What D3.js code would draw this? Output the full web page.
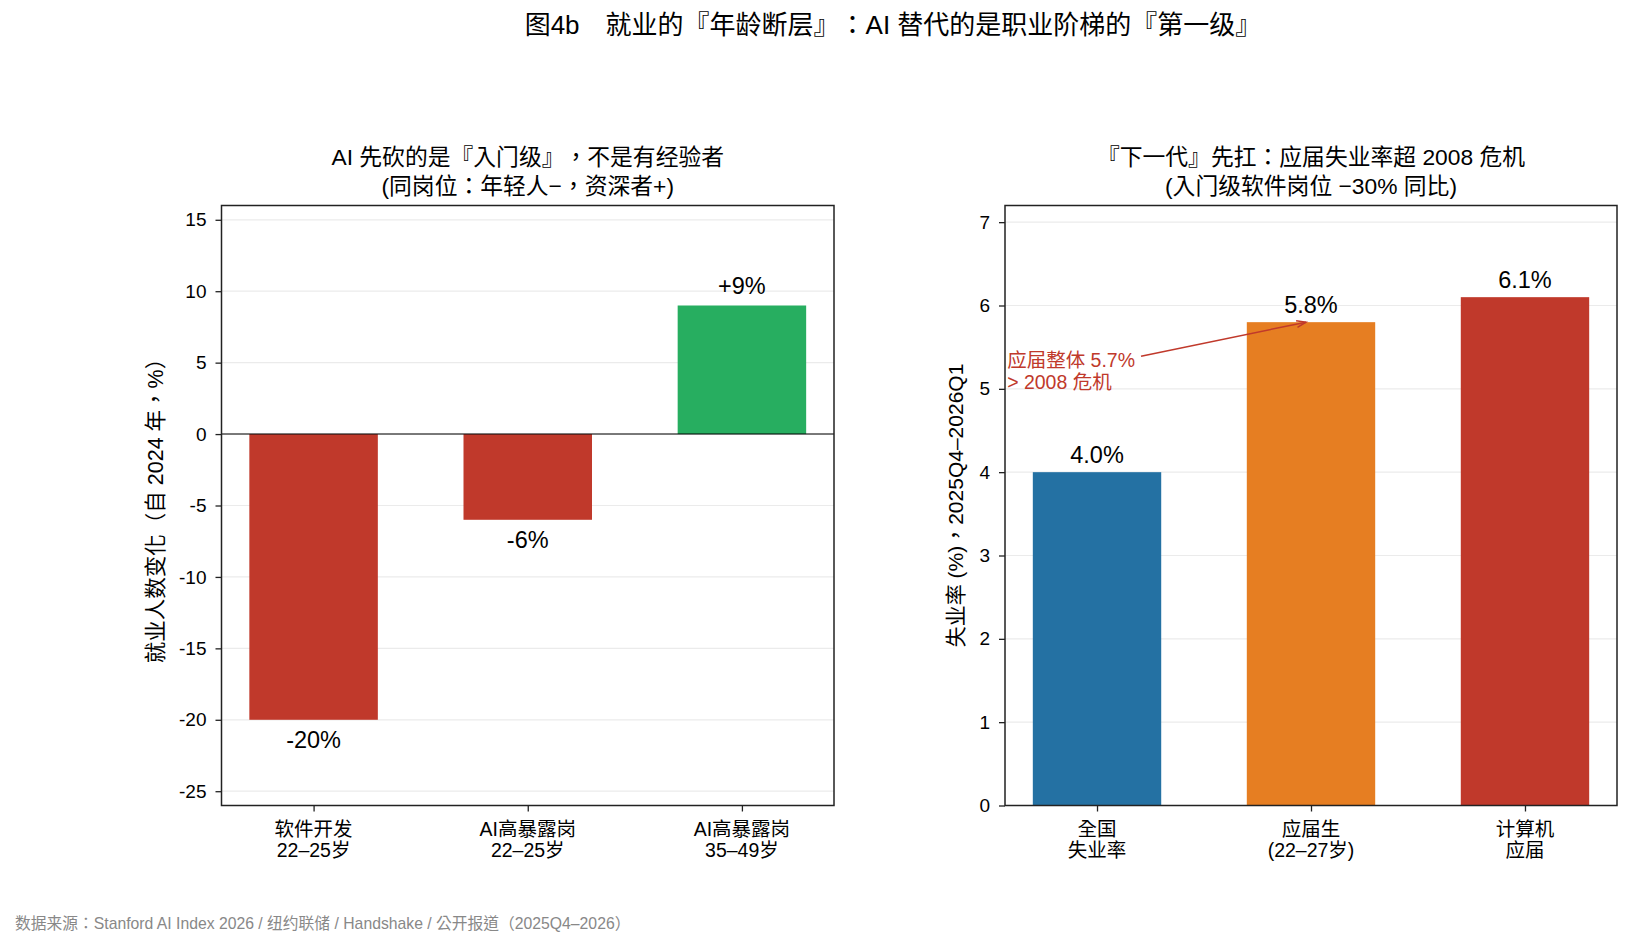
<!DOCTYPE html>
<html><head><meta charset="utf-8">
<script src="https://cdn.jsdelivr.net/npm/d3@7"></script>
<style>
body{margin:0;background:#fff;}
svg{display:block;}
text{font-family:"Liberation Sans","Noto Sans CJK TC",sans-serif;text-spacing-trim:space-all;}
</style></head>
<body><div id="chart"></div>
<script>
// ---------- data ----------
const mainTitle = "图4b　就业的『年龄断层』：AI 替代的是职业阶梯的『第一级』";
const footer = "数据来源：Stanford AI Index 2026 / 纽约联储 / Handshake / 公开报道（2025Q4–2026）";

const leftTitle = ["AI 先砍的是『入门级』，不是有经验者", "(同岗位：年轻人−，资深者+)"];
const leftCategories = [["软件开发","22–25岁"],["AI高暴露岗","22–25岁"],["AI高暴露岗","35–49岁"]];
const leftValues = [-20, -6, 9];
const leftLabels = ["-20%", "-6%", "+9%"];
const leftColors = ["#c0392b", "#c0392b", "#27ae60"];
const leftTicks = [-25, -20, -15, -10, -5, 0, 5, 10, 15];
const leftYLabel = "就业人数变化（自 2024 年，%）";

const rightTitle = ["『下一代』先扛：应届失业率超 2008 危机", "(入门级软件岗位 −30% 同比)"];
const rightCategories = [["全国","失业率"],["应届生","(22–27岁)"],["计算机","应届"]];
const rightValues = [4.0, 5.8, 6.1];
const rightLabels = ["4.0%", "5.8%", "6.1%"];
const rightColors = ["#2471a3", "#e67e22", "#c0392b"];
const rightTicks = [0, 1, 2, 3, 4, 5, 6, 7];
const rightYLabel = "失业率 (%)，2025Q4–2026Q1";
const annoText = ["应届整体 5.7%", "> 2008 危机"];
const annoTarget = {x: 1, y: 5.8};
const annoPos = {x: -0.42, y: 5.35};

// ---------- layout ----------
const W = 1632, H = 946;
const svg = d3.select("#chart").append("svg").attr("width", W).attr("height", H);

svg.append("text").attr("x", 893).attr("y", 25).attr("text-anchor","middle")
  .attr("dominant-baseline","central").attr("font-size", 26).attr("fill","#000").text(mainTitle);
svg.append("text").attr("x", 15).attr("y", 923).attr("dominant-baseline","central")
  .attr("font-size", 15.75).attr("fill","#888").text(footer);

function panel(opt){
  const {x0, x1, y0, y1} = opt;
  const g = svg.append("g");
  const x = d3.scaleLinear().domain([-0.43, 2.43]).range([x0, x1]);
  const y = d3.scaleLinear().domain(opt.domain).range([y1, y0]);
  // grid
  g.selectAll(".grid").data(opt.ticks).enter().append("line")
    .attr("x1", x0).attr("x2", x1).attr("y1", d=>y(d)).attr("y2", d=>y(d))
    .attr("stroke", "#ebebeb").attr("stroke-width", 1.2);
  // bars
  const bw = x(0.3) - x(-0.3);
  g.selectAll(".bar").data(opt.values).enter().append("rect")
    .attr("x", (d,i)=>x(i-0.3)).attr("width", bw)
    .attr("y", d=>y(Math.max(0,d))).attr("height", d=>Math.abs(y(d)-y(0)))
    .attr("fill", (d,i)=>opt.colors[i]);
  if (opt.zeroLine){
    g.append("line").attr("x1", x0).attr("x2", x1).attr("y1", y(0)).attr("y2", y(0))
      .attr("stroke","#000").attr("stroke-width",1.1);
  }
  // value labels
  g.selectAll(".vl").data(opt.values).enter().append("text")
    .attr("x", (d,i)=>x(i)).attr("y", d=> d>=0 ? y(d)-opt.labOff : y(d)+opt.labOff)
    .attr("text-anchor","middle").attr("dominant-baseline","central")
    .attr("font-size", opt.labSize).attr("fill","#000").text((d,i)=>opt.labels[i]);
  // axes
  const ya = d3.axisLeft(y).tickValues(opt.ticks).tickSize(6).tickPadding(9).tickFormat(opt.fmt);
  const yg = g.append("g").attr("transform", `translate(${x0},0)`).call(ya);
  yg.select(".domain").remove();
  yg.selectAll("text").attr("font-size", 19).attr("fill","#000");
  yg.selectAll("line").attr("stroke","#222").attr("stroke-width",1.3);
  const xa = d3.axisBottom(x).tickValues([0,1,2]).tickSize(6).tickFormat("");
  const xg = g.append("g").attr("transform", `translate(0,${y1})`).call(xa);
  xg.select(".domain").remove();
  xg.selectAll("line").attr("stroke","#222").attr("stroke-width",1.3);
  opt.cats.forEach((c,i)=>{
    c.forEach((s,j)=> g.append("text").attr("x", x(i)).attr("y", y1 + 23 + j*21)
      .attr("text-anchor","middle").attr("dominant-baseline","central")
      .attr("font-size",19.5).attr("fill","#000").text(s));
  });
  // frame
  g.append("rect").attr("x", x0).attr("y", y0).attr("width", x1-x0).attr("height", y1-y0)
    .attr("fill","none").attr("stroke","#222").attr("stroke-width",1.5);
  // titles
  opt.title.forEach((s,j)=>{
    g.append("text").attr("x", (x0+x1)/2).attr("y", 157 + j*29).attr("text-anchor","middle")
      .attr("dominant-baseline","central").attr("font-size",22.8).attr("fill","#000").text(s);
  });
  g.append("text").attr("transform", `translate(${opt.ylabX},${(y0+y1)/2}) rotate(-90)`)
    .attr("text-anchor","middle").attr("dominant-baseline","central")
    .attr("font-size",opt.ylabSize).attr("fill","#000").text(opt.ylabel);
  return {g, x, y};
}

panel({x0:221.5, x1:834, y0:205.5, y1:805.5, domain:[-26,16], ticks:leftTicks,
  values:leftValues, labels:leftLabels, colors:leftColors, cats:leftCategories,
  title:leftTitle, ylabel:leftYLabel, ylabX:156, ylabSize:21.5, zeroLine:true, labOff:20, labSize:23.5,
  fmt:d=>String(d)});

const R = panel({x0:1005, x1:1617, y0:205.5, y1:805.5, domain:[0,7.2], ticks:rightTicks,
  values:rightValues, labels:rightLabels, colors:rightColors, cats:rightCategories,
  title:rightTitle, ylabel:rightYLabel, ylabX:955, ylabSize:21, zeroLine:false, labOff:17, labSize:23.5,
  fmt:d=>String(d)});

// annotation
const red = "#c0392b";
const at = R.g.append("text").attr("font-size",19.5).attr("fill",red);
annoText.forEach((s,j)=> at.append("tspan").attr("x", R.x(annoPos.x)).attr("y", R.y(annoPos.y) + j*22)
  .attr("dominant-baseline","central").text(s));
const bb = at.node().getBBox();
const cx = bb.x + bb.width/2, cy = bb.y + bb.height/2;
const tx = R.x(annoTarget.x) - 5, ty = R.y(annoTarget.y);
const ex = bb.x + bb.width + 6;
const ey = cy + (ty - cy) * (ex - cx) / (tx - cx);
R.g.append("line").attr("x1", ex).attr("y1", ey).attr("x2", tx).attr("y2", ty)
  .attr("stroke", red).attr("stroke-width", 1.5);
const ang = Math.atan2(ty-ey, tx-ex);
const hl = 10, ha = 0.35;
R.g.append("path")
  .attr("d", `M${tx-hl*Math.cos(ang-ha)},${ty-hl*Math.sin(ang-ha)} L${tx},${ty} L${tx-hl*Math.cos(ang+ha)},${ty-hl*Math.sin(ang+ha)}`)
  .attr("fill","none").attr("stroke", red).attr("stroke-width",1.5);
</script></body></html>
